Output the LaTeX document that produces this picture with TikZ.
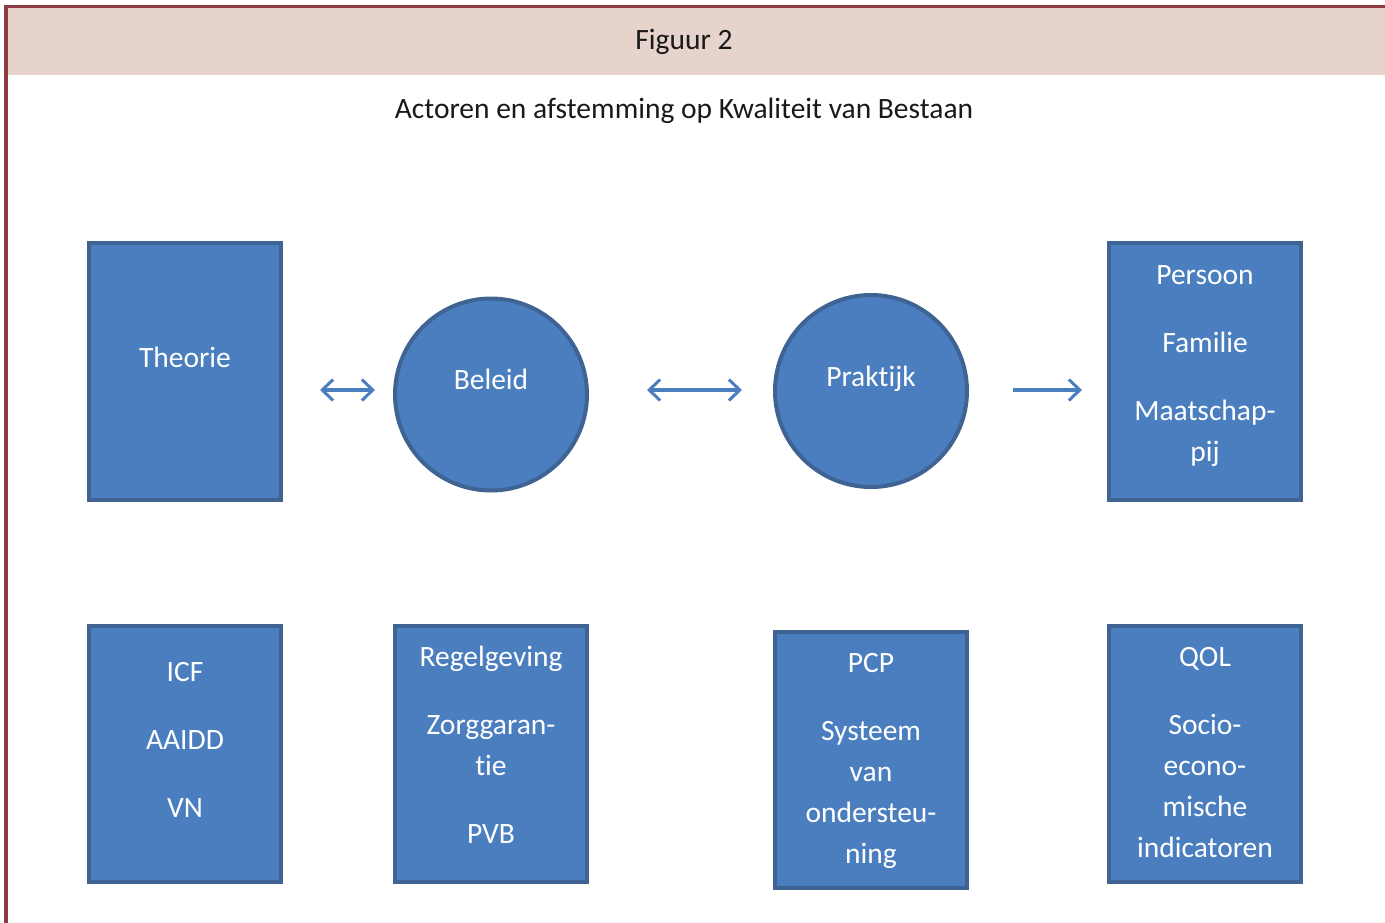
\documentclass[tikz,border=0pt]{standalone}
\usepackage{fontspec}
\setmainfont{Carlito}[Ligatures=NoCommon]
\usetikzlibrary{arrows.meta}
\definecolor{frame}{HTML}{8E3A45}
\definecolor{header}{HTML}{E6D4CC}
\definecolor{boxfill}{HTML}{4A7EBF}
\definecolor{boxline}{HTML}{3F6392}
\definecolor{arrowc}{HTML}{4A7EBF}
\tikzset{
  box/.style={draw=boxline, fill=boxfill, line width=4pt, rectangle, inner sep=0pt,
    minimum width=192pt, minimum height=257pt},
  disc/.style={draw=boxline, fill=boxfill, line width=4pt, circle, inner sep=0pt,
    minimum size=192pt},
  txt/.style={text=white, anchor=base, inner sep=0pt, font=\fontsize{29.5}{35}\selectfont},
  ttl/.style={text=black!90, anchor=base, inner sep=0pt, font=\fontsize{29.5}{35}\selectfont},
  arr/.style={draw=arrowc, line width=3.2pt}
}
\begin{document}
\begin{tikzpicture}[x=1pt,y=-1pt]
\useasboundingbox (0,0) rectangle (1385,922);
% header and frame
\fill[header] (7,8) rectangle (1385,75);
\draw[frame, line width=3.2pt] (6,925) -- (6,6.5) -- (1390,6.5);
\node[ttl] (fig) at (684,49) {Figuur 2};
\node[ttl] (sub) at (684,118) {Actoren en afstemming op Kwaliteit van Bestaan};
% top row
\node[box] (theorie) at (185,371.5) {};
\node[disc] (beleid) at (491,394.5) {};
\node[disc] (praktijk) at (871,391) {};
\node[box] (persoon) at (1205,371.5) {};
\node[txt] (tTheorie) at (185,367) {Theorie};
\node[txt] (tBeleid) at (491,389) {Beleid};
\node[txt] (tPraktijk) at (871,386) {Praktijk};
\node[txt] (tPers1) at (1205,284) {Persoon};
\node[txt] (tPers2) at (1205,352) {Familie};
\node[txt] (tPers3) at (1205,420) {Maatschap-};
\node[txt] (tPers4) at (1205,461) {pij};
% arrows
\coordinate (a1s) at (320,390);
\coordinate (a1e) at (375,390);
\coordinate (a2s) at (647,390);
\coordinate (a2e) at (742,390);
\coordinate (a3s) at (1013,390);
\coordinate (a3e) at (1082,390);
\draw[arr, {Straight Barb[length=11pt,width=21pt,line width=3pt]}-{Straight Barb[length=11pt,width=21pt,line width=3pt]}] (a1s) -- (a1e);
\draw[arr, {Straight Barb[length=11pt,width=21pt,line width=3pt]}-{Straight Barb[length=11pt,width=21pt,line width=3pt]}] (a2s) -- (a2e);
\draw[arr, -{Straight Barb[length=11pt,width=21pt,line width=3pt]}] (a3s) -- (a3e);
% bottom row
\node[box, minimum height=256pt] (icf) at (185,754) {};
\node[box, minimum height=256pt] (regel) at (491,754) {};
\node[box, minimum height=256pt] (pcp) at (871,760) {};
\node[box, minimum height=256pt] (qol) at (1205,754) {};
\node[txt] (tIcf1) at (185,681) {ICF};
\node[txt] (tIcf2) at (185,749) {AAIDD};
\node[txt] (tIcf3) at (185,817) {VN};
\node[txt] (tReg1) at (491,666) {Regelgeving};
\node[txt] (tReg2) at (491,734) {Zorggaran-};
\node[txt] (tReg3) at (491,775) {tie};
\node[txt] (tReg4) at (491,843) {PVB};
\node[txt] (tPcp1) at (871,672) {PCP};
\node[txt] (tPcp2) at (871,740) {Systeem};
\node[txt] (tPcp3) at (871,781) {van};
\node[txt] (tPcp4) at (871,822) {ondersteu-};
\node[txt] (tPcp5) at (871,863) {ning};
\node[txt] (tQol1) at (1205,666) {QOL};
\node[txt] (tQol2) at (1205,734) {Socio-};
\node[txt] (tQol3) at (1205,775) {econo-};
\node[txt] (tQol4) at (1205,816) {mische};
\node[txt] (tQol5) at (1205,857) {indicatoren};
\end{tikzpicture}
\end{document}
